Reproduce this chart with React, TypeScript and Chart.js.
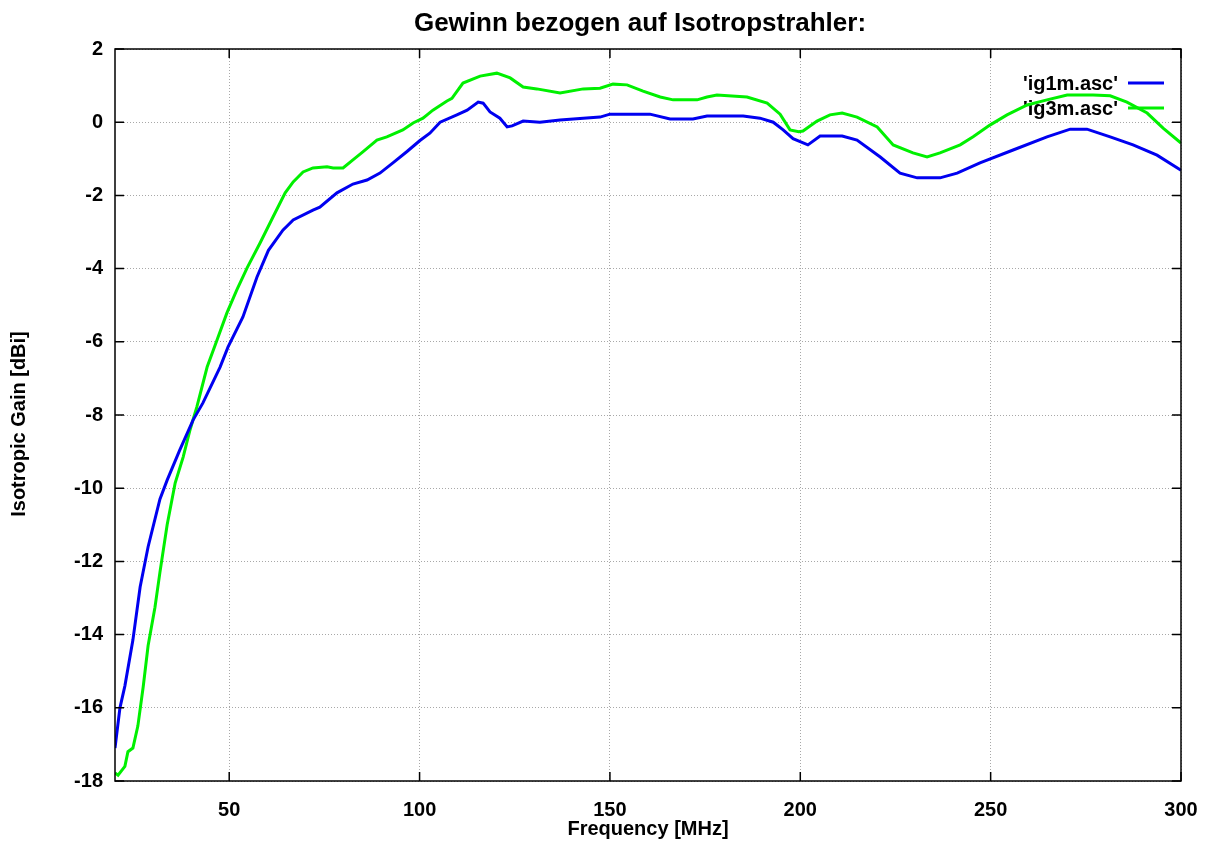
import React, { useEffect, useRef } from "react";
import { Chart, registerables } from "chart.js";

Chart.register(...registerables);

const titleText = "Gewinn bezogen auf Isotropstrahler:";
const xTitle = "Frequency [MHz]";
const yTitle = "Isotropic Gain [dBi]";
const seriesNames = ["'ig1m.asc'", "'ig3m.asc'"];
const seriesColors = ["#0000f0", "#00f000"];

const xTicks = [50, 100, 150, 200, 250, 300];
const yTicks = [-18, -16, -14, -12, -10, -8, -6, -4, -2, 0, 2];

const ig1mFreq = [20, 21.3, 22.6, 24.7, 26.6, 28.7, 31.8, 33.7, 37, 40.5, 43.1, 47.6, 49.7, 53.6, 57.3, 60.3, 64.1, 66.8, 72, 73.8, 78.3, 82.5, 86.2, 89.6, 93, 96.7, 100.1, 102.7, 105.4, 109.8, 112.5, 115.4, 116.7, 118.5, 121.1, 123, 124.3, 127.2, 131.6, 136.9, 143, 147.4, 150, 160.5, 165.8, 171.8, 175.5, 185, 189.4, 192.9, 195.5, 198.1, 202, 205.2, 211, 214.9, 221, 226.2, 230.7, 236.7, 241.2, 247.2, 255.9, 264.8, 270.9, 275.3, 281.4, 287.4, 293.7, 300];
const ig1mGain = [-17.1, -16.0, -15.4, -14.15, -12.7, -11.6, -10.3, -9.78, -8.96, -8.14, -7.67, -6.69, -6.14, -5.32, -4.23, -3.5, -2.95, -2.67, -2.4, -2.32, -1.93, -1.69, -1.58, -1.39, -1.11, -0.8, -0.5, -0.3, 0.0, 0.2, 0.33, 0.55, 0.52, 0.28, 0.11, -0.13, -0.1, 0.03, 0.0, 0.06, 0.11, 0.14, 0.22, 0.22, 0.09, 0.09, 0.17, 0.17, 0.11, 0.0, -0.21, -0.45, -0.62, -0.38, -0.38, -0.49, -0.95, -1.39, -1.52, -1.52, -1.39, -1.11, -0.76, -0.4, -0.19, -0.19, -0.4, -0.62, -0.9, -1.31];

const ig3mFreq = [20, 20.8, 22.6, 23.4, 24.7, 26, 27.4, 28.7, 30.5, 31.8, 33.7, 35.8, 37.9, 39.7, 41.5, 44.2, 46.8, 49.4, 52, 54.7, 58.1, 61.5, 64.7, 66.8, 69.4, 72, 75.7, 77.3, 79.9, 82.5, 85.1, 88.8, 91.4, 95.6, 98.3, 100.9, 103.5, 107.2, 108.5, 111.4, 115.9, 120.3, 123.8, 127.2, 130.8, 136.9, 143, 147.4, 150.8, 154.5, 158.7, 163.2, 166.6, 172.9, 175.5, 178.1, 186, 191.3, 194.7, 197.3, 199.6, 200.7, 204.4, 207.8, 211, 214.9, 220.2, 224.4, 229.6, 233.3, 236.7, 242, 245.4, 249.8, 254.3, 259.6, 264.8, 270.1, 276.9, 281.4, 285.8, 291.1, 295.3, 300];
const ig3mGain = [-17.78, -17.84, -17.6, -17.2, -17.1, -16.5, -15.43, -14.3, -13.25, -12.3, -11.0, -9.86, -9.15, -8.41, -7.78, -6.69, -5.95, -5.21, -4.58, -3.98, -3.3, -2.59, -1.93, -1.63, -1.36, -1.25, -1.22, -1.25, -1.25, -1.03, -0.81, -0.49, -0.4, -0.21, -0.02, 0.11, 0.33, 0.58, 0.65, 1.07, 1.26, 1.34, 1.21, 0.96, 0.91, 0.8, 0.91, 0.93, 1.04, 1.02, 0.85, 0.69, 0.61, 0.61, 0.69, 0.74, 0.69, 0.52, 0.22, -0.21, -0.26, -0.24, 0.03, 0.2, 0.25, 0.14, -0.13, -0.62, -0.84, -0.95, -0.84, -0.62, -0.4, -0.08, 0.2, 0.47, 0.61, 0.74, 0.74, 0.72, 0.55, 0.25, -0.16, -0.57];

const FONT = "'Liberation Sans', Arial, sans-serif";

const framePlugin = {
  id: "gnuFrame",
  beforeDatasetsDraw(chart: any) {
    const { ctx } = chart;
    ctx.save();
    ctx.font = "bold 20px " + FONT;
    ctx.textAlign = "right";
    ctx.textBaseline = "alphabetic";
    seriesNames.forEach((n, i) => {
      const y = 83 + i * 25;
      ctx.fillStyle = "#000";
      ctx.fillText(n, 1118, y + 7);
      ctx.strokeStyle = seriesColors[i];
      ctx.lineWidth = 3;
      ctx.beginPath();
      ctx.moveTo(1128, y);
      ctx.lineTo(1164, y);
      ctx.stroke();
    });
    ctx.restore();
  },
  afterDatasetsDraw(chart: any) {
    const { ctx, chartArea: a, scales } = chart;
    ctx.save();
    ctx.strokeStyle = "#000";
    ctx.lineWidth = 1.5;
    ctx.strokeRect(a.left, a.top, a.right - a.left, a.bottom - a.top);
    const tl = 9;
    ctx.beginPath();
    xTicks.forEach((v) => {
      const x = scales.x.getPixelForValue(v);
      ctx.moveTo(x, a.bottom);
      ctx.lineTo(x, a.bottom - tl);
      ctx.moveTo(x, a.top);
      ctx.lineTo(x, a.top + tl);
    });
    yTicks.forEach((v) => {
      const y = scales.y.getPixelForValue(v);
      ctx.moveTo(a.left, y);
      ctx.lineTo(a.left + tl, y);
      ctx.moveTo(a.right, y);
      ctx.lineTo(a.right - tl, y);
    });
    ctx.stroke();
    ctx.fillStyle = "#000";
    ctx.textAlign = "center";
    ctx.textBaseline = "alphabetic";
    ctx.font = "bold 26px " + FONT;
    ctx.fillText(titleText, 640, 31);
    ctx.font = "bold 20px " + FONT;
    ctx.fillText(xTitle, 648, 835);
    ctx.translate(25, 424);
    ctx.rotate(-Math.PI / 2);
    ctx.fillText(yTitle, 0, 0);
    ctx.restore();
  },
};

export default function App() {
  const ref = useRef<HTMLCanvasElement>(null);
  useEffect(() => {
    document.body.style.margin = "0";
    const c = ref.current!;
    const chart = new Chart(c, {
      type: "line",
      data: {
        datasets: [
          {
            label: seriesNames[0],
            data: ig1mFreq.map((f, i) => ({ x: f, y: ig1mGain[i] })),
            borderColor: seriesColors[0],
            borderWidth: 3,
            pointRadius: 0,
            tension: 0,
          },
          {
            label: seriesNames[1],
            data: ig3mFreq.map((f, i) => ({ x: f, y: ig3mGain[i] })),
            borderColor: seriesColors[1],
            borderWidth: 3,
            pointRadius: 0,
            tension: 0,
          },
        ],
      },
      options: {
        animation: false,
        responsive: false,
        maintainAspectRatio: false,
        layout: { padding: { top: 49, right: 28, left: 0, bottom: 0 } },
        plugins: { legend: { display: false }, title: { display: false }, tooltip: { enabled: false } },
        scales: {
          x: {
            type: "linear",
            min: 20,
            max: 300,
            afterFit: (s: any) => { s.height = 68; s.paddingLeft = 0; s.paddingRight = 0; },
            afterBuildTicks: (s: any) => { s.ticks = xTicks.map((v) => ({ value: v })); },
            grid: { color: "#a8a8a8", drawTicks: false, lineWidth: 1 },
            border: { display: false, dash: [1, 2] },
            ticks: { padding: 17, color: "#000", font: { family: FONT, size: 20, weight: "bold" }, maxRotation: 0 },
          },
          y: {
            type: "linear",
            min: -18,
            max: 2,
            afterFit: (s: any) => { s.width = 115; s.paddingTop = 0; s.paddingBottom = 0; },
            afterBuildTicks: (s: any) => { s.ticks = yTicks.map((v) => ({ value: v })); },
            grid: { color: "#a8a8a8", drawTicks: false, lineWidth: 1 },
            border: { display: false, dash: [1, 2] },
            ticks: { padding: 12, color: "#000", font: { family: FONT, size: 20, weight: "bold" } },
          },
        },
      },
      plugins: [framePlugin],
    });
    return () => chart.destroy();
  }, []);
  return <canvas ref={ref} width={1209} height={849} style={{ display: "block", width: 1209, height: 849 }} />;
}
